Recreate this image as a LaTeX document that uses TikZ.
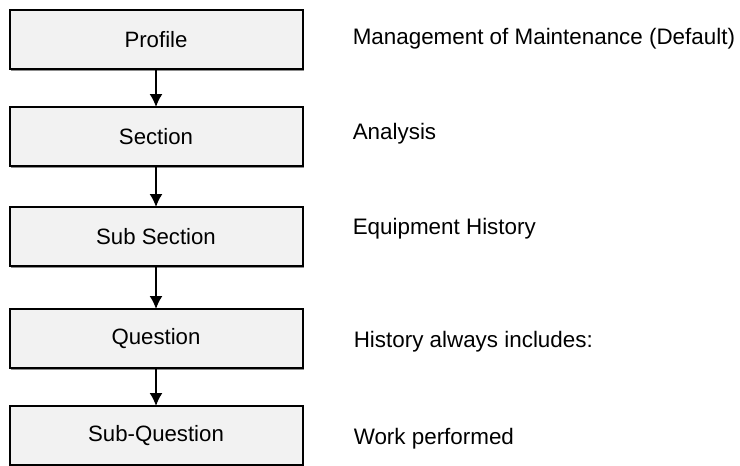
\documentclass[tikz,border=0pt]{standalone}
\usepackage{fontspec}
\setmainfont{Liberation Sans}
\usetikzlibrary{arrows.meta,positioning,shadows}

\begin{document}
\begin{tikzpicture}[x=0.5pt,y=-0.5pt,->,>={Latex[length=6.5pt,width=6.5pt]},line width=0.8pt,
    level/.style={draw=black,line width=1pt,fill=black!5,minimum width=146.5pt,minimum height=29.5pt,
      inner sep=0pt,outer sep=0pt,font=\fontsize{11.1}{13}\selectfont,
      drop shadow={shadow xshift=0.8pt,shadow yshift=-0.8pt,fill=black!45,opacity=1}},
    note/.style={anchor=west,inner sep=0pt,font=\fontsize{11.2}{13}\selectfont}]
    \useasboundingbox (0,0) rectangle (740,466);
    \node[level] (profile) at (156,39.5) {Profile};
    \node[level] (section) [below=19pt of profile] {Section};
    \node[level] (subsection) [below=20.5pt of section] {Sub Section};
    \node[level] (question) [below=21.5pt of subsection] {Question};
    \node[level] (subquestion) [below=19pt of question] {Sub-Question};
    \node[note] (ex1) at (352,39) {Management of Maintenance (Default)};
    \node[note] (ex2) at (352,134) {Analysis};
    \node[note] (ex3) at (352,229) {Equipment History};
    \node[note] (ex4) at (353,342) {History always includes:};
    \node[note] (ex5) at (353,439) {Work performed};
    \draw (profile) -- (section);
    \draw (section) -- (subsection);
    \draw (subsection) -- (question);
    \draw (question) -- (subquestion);
\end{tikzpicture}
\end{document}
